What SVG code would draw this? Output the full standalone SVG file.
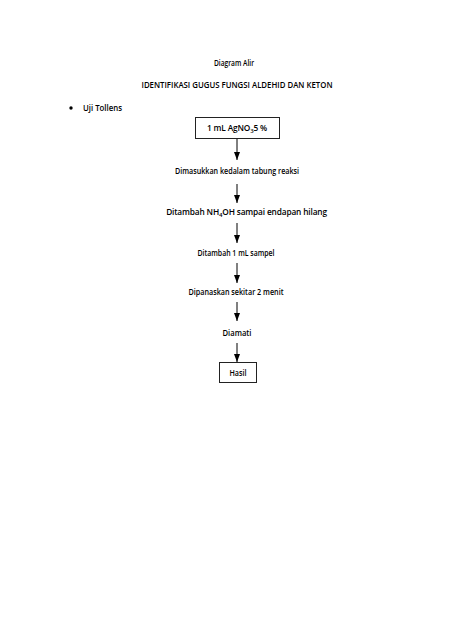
<svg xmlns="http://www.w3.org/2000/svg" width="474" height="632" viewBox="0 0 474 632">
<defs>
<marker id="ah" viewBox="0 0 8 6" refX="8" refY="3" markerWidth="8" markerHeight="6" markerUnits="userSpaceOnUse" orient="auto">
<path d="M0,0 L8,3 L0,6 Z" fill="#000"/>
</marker>
</defs>
<style>
text{font-family:"Open Sans","Liberation Sans",Arial,sans-serif;font-size:9px;font-weight:600;fill:#000;text-anchor:middle}
text.s{text-anchor:start}
tspan.sub{font-size:6px}
.box{fill:#fff;stroke:#222;stroke-width:1}
.c line{stroke:#000;stroke-width:1}
</style>
<rect width="474" height="632" fill="#fff"/>
<g id="title">
<text x="234" y="66" textLength="40" lengthAdjust="spacingAndGlyphs">Diagram Alir</text>
<text x="237" y="88" textLength="191" lengthAdjust="spacingAndGlyphs">IDENTIFIKASI GUGUS FUNGSI ALDEHID DAN KETON</text>
</g>
<g id="bullet">
<circle cx="71" cy="108" r="1.7" fill="#000"/>
<text class="s" x="83" y="111" textLength="39" lengthAdjust="spacingAndGlyphs">Uji Tollens</text>
</g>
<g id="n1">
<rect class="box" x="195.5" y="117.5" width="84" height="21"/>
<text x="237" y="131" style="font-size:8.3px;letter-spacing:-0.15px">1 mL AgNO<tspan class="sub" dy="2">3</tspan><tspan dy="-2">5 %</tspan></text>
</g>
<g id="n2"><text x="237" y="174" textLength="124" lengthAdjust="spacingAndGlyphs">Dimasukkan kedalam tabung reaksi</text></g>
<g id="n3">
<text x="246.5" y="215" style="font-size:8.3px;letter-spacing:-0.15px">Ditambah NH<tspan class="sub" dy="2">4</tspan><tspan dy="-2">OH sampai endapan hilang</tspan></text>
</g>
<g id="n4"><text x="236" y="256" textLength="77" lengthAdjust="spacingAndGlyphs">Ditambah 1 mL sampel</text></g>
<g id="n5"><text x="236" y="295" textLength="95" lengthAdjust="spacingAndGlyphs">Dipanaskan sekitar 2 menit</text></g>
<g id="n6"><text x="237" y="336" textLength="29" lengthAdjust="spacingAndGlyphs">Diamati</text></g>
<g id="n7">
<rect class="box" x="219.5" y="362.5" width="37" height="20"/>
<text x="238" y="376" textLength="17" lengthAdjust="spacingAndGlyphs">Hasil</text>
</g>
<g class="c" id="connectors">
<line x1="237" y1="139" x2="237" y2="160" marker-end="url(#ah)"/>
<line x1="237" y1="184" x2="237" y2="203" marker-end="url(#ah)"/>
<line x1="237" y1="223" x2="237" y2="243" marker-end="url(#ah)"/>
<line x1="237" y1="263" x2="237" y2="283" marker-end="url(#ah)"/>
<line x1="237" y1="302" x2="237" y2="321" marker-end="url(#ah)"/>
<line x1="237" y1="343" x2="237" y2="362" marker-end="url(#ah)"/>
</g>
</svg>
